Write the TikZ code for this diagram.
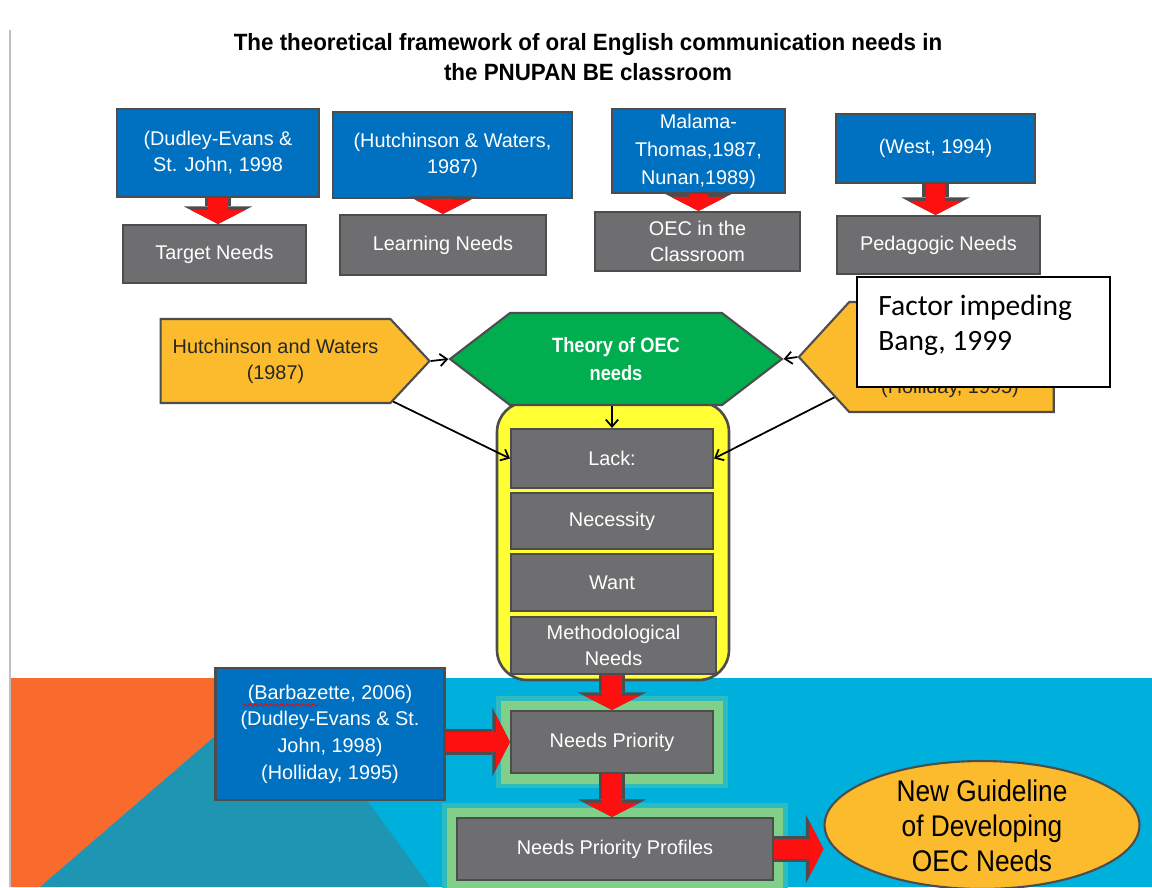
\documentclass[tikz,border=0pt]{standalone}
\usepackage{fontspec}
\usetikzlibrary{shapes.symbols,shapes.geometric,arrows.meta,decorations.pathmorphing}
\setmainfont{Liberation Sans}
\newfontfamily\carlito{Carlito}
\newfontfamily\narrow[FakeStretch=0.88]{Liberation Sans}
\newfontfamily\titlefont[FakeStretch=0.95]{Liberation Sans}
\definecolor{boxblue}{HTML}{0070C0}
\definecolor{boxgray}{HTML}{6E6E70}
\definecolor{edgegray}{HTML}{4D4D4D}
\definecolor{boxorange}{HTML}{FBBB2C}
\definecolor{boxgreen}{HTML}{00AE50}
\definecolor{boxyellow}{HTML}{FFFF33}
\definecolor{arrowred}{HTML}{FF1010}
\definecolor{glowgreen}{HTML}{80D08A}
\definecolor{bgblue}{HTML}{00B0DC}
\definecolor{bgteal}{HTML}{1E95B2}
\definecolor{bgorange}{HTML}{F86B2C}

\begin{document}
\begin{tikzpicture}[x=0.02cm, y=-0.02cm,
    txt/.style={font=\fontsize{11.3}{14.8}\selectfont, align=center, inner sep=0pt},
    bluebox/.style={txt, draw=edgegray, line width=1.2pt, fill=boxblue, text=white},
    graybox/.style={txt, draw=edgegray, line width=1.2pt, fill=boxgray, text=white},
    glow/.style={preaction={draw=glowgreen!35!bgblue, line width=0.6cm}, preaction={draw=glowgreen, line width=0.42cm}},
    orangebox/.style={txt, signal, draw=edgegray, line width=1.2pt, fill=boxorange, text=black!85},
    redarrow/.style={draw=arrowred, line width=11pt, -{Triangle[length=8pt,width=31pt,line width=0pt]},
      preaction={draw=edgegray, line width=15pt, -{Triangle[length=10pt,width=39pt,line width=0pt]}}},
    linkarrow/.style={line width=1pt, -{Straight Barb[length=4pt,width=7pt]}}]
  \useasboundingbox (0,0) rectangle (1152,887);
  \fill[white] (0,0) rectangle (1152,887);
  % coloured band at the foot of the slide
  \fill[bgblue] (10,678) rectangle (1152,887);
  \fill[bgorange] (10,678) -- (360,678) -- (60,887) -- (10,887) -- cycle;
  \fill[bgteal] (40,887) -- (280,680) -- (430,887) -- cycle;
  \draw[gray!50, line width=0.9pt] (10,30) -- (10,887);

  \node[font=\titlefont\bfseries\fontsize{13.4}{17}\selectfont, align=center] (title) at (588,57)
    {The theoretical framework of oral English communication needs in\\the PNUPAN BE classroom};

  % sources and needs
  \node[bluebox, minimum width=4.04cm, minimum height=1.76cm] (dudley) at (218,153) {(Dudley-Evans \&\\St. John, 1998};
  \node[bluebox, minimum width=4.78cm, minimum height=1.72cm] (hutch) at (452.5,155) {(Hutchinson \& Waters,\\1987)};
  \node[bluebox, minimum width=3.46cm, minimum height=1.68cm, font=\fontsize{11.3}{16}\selectfont] (malama) at (698.5,151) {Malama-\\Thomas,1987,\\Nunan,1989)};
  \node[bluebox, minimum width=3.98cm, minimum height=1.38cm] (west) at (935.5,148.5) {(West, 1994)};
  \node[graybox, minimum width=3.66cm, minimum height=1.16cm] (target) at (214.5,254) {Target Needs};
  \node[graybox, minimum width=4.12cm, minimum height=1.2cm] (learning) at (443,245) {Learning Needs};
  \node[graybox, minimum width=4.1cm, minimum height=1.18cm] (oecclass) at (697.5,241.5) {OEC in the\\Classroom};
  \node[graybox, minimum width=4.06cm, minimum height=1.16cm] (pedagogic) at (938.5,245) {Pedagogic Needs};
  \draw[redarrow] (dudley.south) -- (dudley.south |- target.north);
  \draw[redarrow] (hutch.south -| learning.north) -- (learning.north);
  \draw[redarrow] (malama.south) -- (malama.south |- oecclass.north);
  \draw[redarrow] (west.south) -- (west.south |- pedagogic.north);

  % lack, necessity, want
  \node[draw=edgegray, line width=1.5pt, fill=boxyellow, rounded corners=0.6cm, minimum width=4.64cm, minimum height=5.56cm] (needsframe) at (613,541) {};
  \node[graybox, minimum width=4.04cm, minimum height=1.18cm] (lack) at (612,458.5) {Lack:};
  \node[graybox, minimum width=4.04cm, minimum height=1.12cm] (necessity) at (612,521) {Necessity};
  \node[graybox, minimum width=4.04cm, minimum height=1.14cm] (want) at (612,582.5) {Want};
  \node[graybox, minimum width=4.1cm, minimum height=1.14cm] (method) at (613.5,645.5) {Methodological\\Needs};

  \node[orangebox, signal to=east, signal pointer angle=94, minimum width=5.38cm, minimum height=1.68cm] (hwaters) at (275.5,361) {Hutchinson and Waters\\(1987)};
  \node[signal, signal to=east and west, signal pointer angle=75, draw=edgegray, line width=1.2pt, fill=boxgreen, text=white,
    font=\narrow\bfseries\fontsize{11.8}{15.5}\selectfont, align=center, minimum width=6.64cm, minimum height=1.84cm] (theory) at (616,359) {Theory of OEC\\needs};
  \node[orangebox, signal to=west, signal pointer angle=95, minimum width=5.1cm, minimum height=2.2cm] (holliday) at (951.5,357) {};
  \node[txt, text=black!85] (hollidaytext) at (950,388) {(Holliday, 1995)};
  \node[draw=black, line width=1pt, fill=white, minimum width=5.06cm, minimum height=2.2cm] (factor) at (983.5,332) {};
  \node[font=\carlito\fontsize{16.8}{19.8}\selectfont, align=left, anchor=north west, inner sep=0pt] (factortext) at (878,295) {Factor impeding\\Bang, 1999};

  \draw[linkarrow] (hwaters.east) -- (theory.west);
  \draw[linkarrow] (holliday.west) -- (theory.east);
  \draw[linkarrow] (lack.north |- theory.south) -- (lack.north);
  \draw[linkarrow] (hwaters.-19) -- (lack.west);
  \draw[linkarrow] (holliday.199) -- (lack.east);

  % priorities
  \node[bluebox, minimum width=4.58cm, minimum height=2.64cm, font=\fontsize{11.3}{15.2}\selectfont] (refs) at (330,734)
    {(Barbazette, 2006)\\(Dudley-Evans \& St.\\John, 1998)\\(Holliday, 1995)};
  \draw[red, line width=0.5pt, decorate, decoration={snake, amplitude=0.6pt, segment length=3pt}] (243,705) -- (318,705);
  \node[graybox, glow, minimum width=4.04cm, minimum height=1.24cm] (priority) at (612,742) {Needs Priority};
  \node[graybox, glow, minimum width=6.32cm, minimum height=1.24cm] (profiles) at (615,849) {Needs Priority Profiles};
  \node[ellipse, draw=edgegray, line width=1.2pt, fill=boxorange, minimum width=6.3cm, minimum height=2.56cm] (guideline) at (982,825) {};
  \node[font=\narrow\fontsize{17}{20}\selectfont, align=center, inner sep=0pt] (guidetext) at (982,826) {New Guideline\\of Developing\\OEC Needs};
  \draw[redarrow] (method.south -| priority.north) -- (priority.north);
  \draw[redarrow] (priority.south) -- (priority.south |- profiles.north);
  \draw[redarrow] (refs.east |- priority.west) -- (priority.west);
  \draw[redarrow] (profiles.east) -- (profiles.east -| guideline.west);
\end{tikzpicture}
\end{document}
